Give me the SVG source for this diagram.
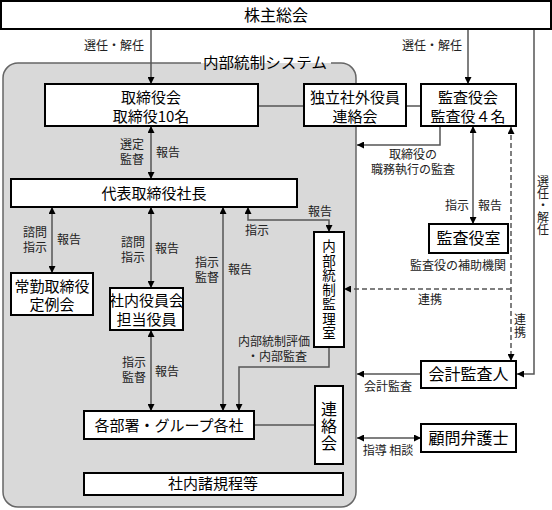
<svg xmlns="http://www.w3.org/2000/svg" width="552" height="510" viewBox="0 0 552 510">
<defs>
<marker id="ah" viewBox="0 0 10 10" refX="10" refY="5" markerWidth="7" markerHeight="7" markerUnits="userSpaceOnUse" orient="auto-start-reverse">
<path d="M0,0 L10,5 L0,10 z" fill="#000"/>
</marker>
<style>
.box{fill:#fff;stroke:#000;stroke-width:2}
.t{font-family:"Noto Sans CJK JP","Noto Sans CJK SC",sans-serif;font-size:15px;fill:#000;text-anchor:middle}
.big{font-size:16px}
.lb{font-family:"Noto Sans CJK JP","Noto Sans CJK SC",sans-serif;font-size:12px;fill:#222;text-anchor:middle}
.v{writing-mode:vertical-rl;text-anchor:middle}
.c{fill:none;stroke:#555;stroke-width:1.5}
.d{fill:none;stroke:#555;stroke-width:1.5;stroke-dasharray:5,3}
.e{marker-end:url(#ah)}
.s{marker-start:url(#ah)}
</style>
</defs>
<rect width="552" height="510" fill="#fff"/>

<g id="system">
<rect x="3" y="63" width="353" height="444" rx="15" ry="15" fill="#d9d9d9" stroke="#666" stroke-width="1.5"/>
<rect x="201" y="58" width="130" height="5" fill="#fff"/>
<rect x="201" y="63" width="130" height="6" fill="#d9d9d9"/>
<text class="t" x="265" y="68" textLength="124" lengthAdjust="spacingAndGlyphs">内部統制システム</text>
</g>

<g id="connectors">
<path class="c e" d="M151,29 V84"/>
<path class="c e" d="M468,29 V84"/>
<path class="c" d="M258,106 H304"/>
<path class="c" d="M406,106 H421"/>
<path class="c e s" d="M151,126 V179"/>
<path class="c e" d="M440,126 V145 H357"/>
<path class="c e s" d="M473,126 V224"/>
<path class="d e s" d="M511,127 V361"/>
<path class="d e" d="M511,289 H344"/>
<path class="c e" d="M534,29 V374 H517"/>
<path class="c e" d="M421,374 H357"/>
<path class="c e s" d="M357,438 H421"/>
<path class="c e s" d="M52,207 V273"/>
<path class="c e s" d="M151,207 V288"/>
<path class="c e s" d="M151,330 V411"/>
<path class="c e s" d="M223,207 V411"/>
<path class="c e s" d="M248,207 V220 H329 V232"/>
<path class="c e" d="M329,347 V367 H239 V411"/>
<path class="c" d="M254,425 H315"/>
</g>

<g id="labels">
<text class="lb" x="114" y="50">選任・解任</text>
<text class="lb" x="432" y="50">選任・解任</text>
<text class="lb" x="132" y="149">選定<tspan x="132" dy="15">監督</tspan></text>
<text class="lb" x="168" y="157">報告</text>
<text class="lb" x="413" y="159">取締役の<tspan x="413" dy="15">職務執行の監査</tspan></text>
<text class="lb" x="457" y="210">指示</text>
<text class="lb" x="490" y="210">報告</text>
<text class="lb" x="458" y="270">監査役の補助機関</text>
<text class="lb" x="430" y="304">連携</text>
<text class="lb v" x="520" y="326" style="letter-spacing:1px">連携</text>
<text class="lb v" x="543" y="205">選任・解任</text>
<text class="lb" x="388" y="391">会計監査</text>
<text class="lb" x="388" y="455">指導 相談</text>
<text class="lb" x="35" y="237">諮問<tspan x="35" dy="15">指示</tspan></text>
<text class="lb" x="69" y="244">報告</text>
<text class="lb" x="133" y="246.5">諮問<tspan x="133" dy="15">指示</tspan></text>
<text class="lb" x="167" y="253">報告</text>
<text class="lb" x="207" y="266.5">指示<tspan x="207" dy="15">監督</tspan></text>
<text class="lb" x="240" y="274">報告</text>
<text class="lb" x="257" y="235">指示</text>
<text class="lb" x="320" y="216">報告</text>
<text class="lb" x="274" y="346">内部統制評価<tspan x="277" dy="15">・内部監査</tspan></text>
<text class="lb" x="134" y="366.5">指示<tspan x="134" dy="15">監督</tspan></text>
<text class="lb" x="167" y="376">報告</text>
</g>

<g id="shareholders">
<rect class="box" x="1" y="1" width="550" height="28"/>
<text class="t big" x="276" y="21">株主総会</text>
</g>
<g id="board">
<rect class="box" x="45" y="84" width="213" height="42"/>
<text class="t" x="151" y="103">取締役会<tspan x="151" dy="19">取締役10名</tspan></text>
</g>
<g id="independent">
<rect class="box" x="304" y="84" width="102" height="42"/>
<text class="t" x="355" y="103">独立社外役員<tspan x="355" dy="19">連絡会</tspan></text>
</g>
<g id="auditors">
<rect class="box" x="421" y="84" width="95" height="42"/>
<text class="t" x="468" y="103">監査役会<tspan x="468" dy="19">監査役４名</tspan></text>
</g>
<g id="president">
<rect class="box" x="11" y="179" width="286" height="28"/>
<text class="t" x="154" y="199">代表取締役社長</text>
</g>
<g id="fulltime">
<rect class="box" x="11" y="273" width="82" height="42"/>
<text class="t" x="52" y="292">常勤取締役<tspan x="52" dy="18">定例会</tspan></text>
</g>
<g id="officers">
<rect class="box" x="110" y="288" width="73" height="42"/>
<text class="t" x="146.5" y="306">社内役員会<tspan x="146.5" dy="19">担当役員</tspan></text>
</g>
<g id="internal-audit">
<rect class="box" x="314" y="232" width="30" height="115"/>
<text class="t v" x="329" y="290" style="font-size:13.5px;letter-spacing:1px">内部統制監理室</text>
</g>
<g id="auditor-office">
<rect class="box" x="429" y="224" width="79" height="29"/>
<text class="t big" x="468.5" y="244">監査役室</text>
</g>
<g id="departments">
<rect class="box" x="84" y="411" width="170" height="28"/>
<text class="t" x="169" y="431">各部署・グループ各社</text>
</g>
<g id="liaison">
<rect class="box" x="315" y="386" width="28" height="78"/>
<text class="t big v" x="329" y="426" style="letter-spacing:1px">連絡会</text>
</g>
<g id="accounting-auditor">
<rect class="box" x="421" y="361" width="95" height="27"/>
<text class="t big" x="468.5" y="380">会計監査人</text>
</g>
<g id="lawyer">
<rect class="box" x="421" y="424" width="95" height="28"/>
<text class="t big" x="468.5" y="444">顧問弁護士</text>
</g>
<g id="rules">
<rect class="box" x="84" y="473" width="259" height="22"/>
<text class="t" x="213" y="489">社内諸規程等</text>
</g>
</svg>
